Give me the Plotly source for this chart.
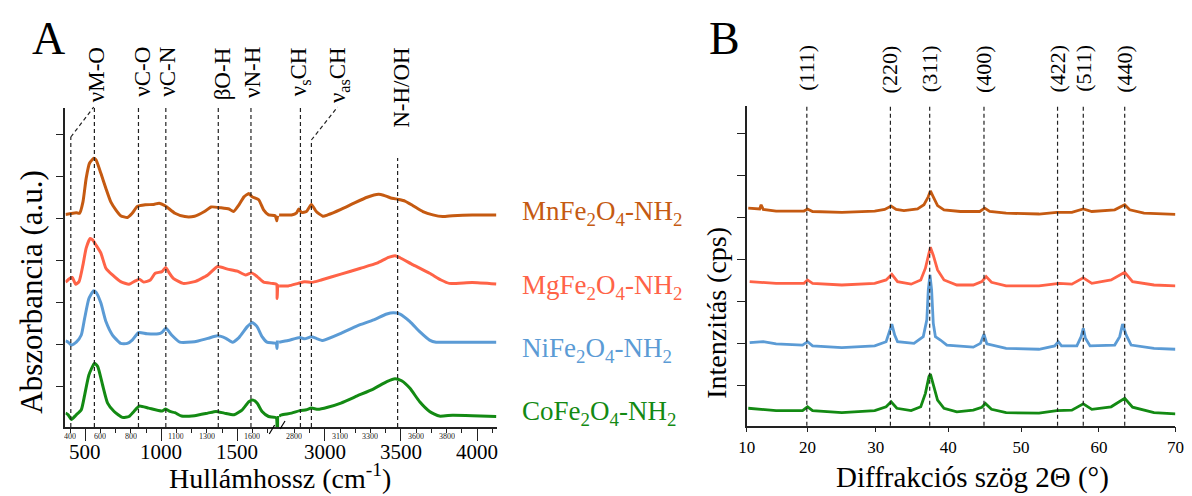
import plotly.graph_objects as go

W, H = 1192, 496
FONT = "Liberation Serif, DejaVu Serif, serif"

# ---------------- IR spectra (panel A) ----------------
samples = ["MnFe<sub>2</sub>O<sub>4</sub>-NH<sub>2</sub>",
           "MgFe<sub>2</sub>O<sub>4</sub>-NH<sub>2</sub>",
           "NiFe<sub>2</sub>O<sub>4</sub>-NH<sub>2</sub>",
           "CoFe<sub>2</sub>O<sub>4</sub>-NH<sub>2</sub>"]
colors = ["#C55A11", "#FF6347", "#5B9BD5", "#138A13"]

ir_mn_wn = [370, 441, 463, 485, 506, 528, 556, 571, 603, 636, 668, 701, 733, 777, 809, 842, 895, 950, 986,
            1025, 1090, 1155, 1219, 1284, 1328, 1393, 1446, 1475, 1511, 1544, 1576, 1598, 1641, 1673, 1706,
            1749, 1760, 1765,
            2700, 2782, 2815, 2829, 2847, 2879, 2912, 2944, 2987, 3019, 3106, 3192, 3278, 3353, 3385, 3429,
            3482, 3526, 3579, 3644, 3709, 3774, 3839, 3968, 4125]
ir_mn = [5.10, 5.14, 5.13, 5.40, 5.96, 6.32, 6.44, 6.40, 6.08, 5.72, 5.40, 5.21, 5.07, 5.03, 5.13, 5.29, 5.33,
         5.34, 5.37, 5.31, 5.13, 5.05, 5.06, 5.17, 5.28, 5.26, 5.23, 5.17, 5.33, 5.52, 5.60, 5.52, 5.45, 5.21,
         5.09, 5.07, 4.95, 5.07,
         5.09, 5.09, 5.14, 5.23, 5.15, 5.17, 5.34, 5.17, 5.06, 5.09, 5.22, 5.37, 5.51, 5.58, 5.56, 5.50,
         5.46, 5.42, 5.31, 5.17, 5.09, 5.05, 5.07, 5.09, 5.09]

ir_mg_wn = [370, 399, 415, 437, 459, 485, 506, 532, 550, 571, 603, 636, 679, 733, 788, 830, 856, 885, 928,
            960, 1004, 1029, 1047, 1079, 1144, 1219, 1306, 1371, 1436, 1501, 1555, 1594, 1631, 1673, 1728,
            1758, 1762, 1766,
            2700, 2760, 2825, 2868, 2912, 2976, 3106, 3235, 3342, 3418, 3462, 3494, 3580, 3688, 3763, 3817,
            3968, 4125]
ir_mg = [3.49, 3.58, 3.60, 3.44, 3.50, 3.90, 4.30, 4.53, 4.49, 4.37, 4.18, 3.82, 3.66, 3.50, 3.44, 3.52, 3.56,
         3.49, 3.54, 3.70, 3.74, 3.84, 3.74, 3.58, 3.46, 3.50, 3.66, 3.86, 3.80, 3.75, 3.66, 3.71, 3.62, 3.49,
         3.46, 3.44, 3.10, 3.44,
         3.40, 3.40, 3.46, 3.50, 3.48, 3.54, 3.68, 3.82, 3.94, 4.08, 4.12, 4.07, 3.90, 3.70, 3.54, 3.46,
         3.48, 3.445]

ir_ni_wn = [370, 388, 409, 441, 474, 496, 524, 554, 571, 603, 636, 679, 733, 777, 809, 852, 906, 982, 1003,
            1031, 1068, 1122, 1219, 1306, 1371, 1425, 1468, 1511, 1566, 1598, 1630, 1663, 1695, 1756, 1761,
            1764,
            2700, 2760, 2836, 2868, 2912, 2944, 2987, 3106, 3213, 3321, 3407, 3450, 3494, 3559, 3623, 3688,
            3731, 3882, 4125]
ir_ni = [2.09, 2.06, 1.99, 2.06, 2.23, 2.63, 3.10, 3.28, 3.25, 2.99, 2.55, 2.23, 2.03, 2.03, 2.11, 2.29, 2.26,
         2.26, 2.29, 2.39, 2.23, 2.06, 2.07, 2.15, 2.21, 2.15, 2.06, 2.17, 2.43, 2.53, 2.43, 2.19, 2.06, 2.03,
         1.91, 2.10,
         2.06, 2.10, 2.17, 2.14, 2.19, 2.15, 2.10, 2.27, 2.45, 2.59, 2.73, 2.76, 2.73, 2.55, 2.31, 2.11,
         2.06, 2.06, 2.06]

ir_co_wn = [370, 388, 409, 441, 474, 496, 524, 561, 582, 614, 647, 690, 744, 788, 820, 856, 917, 1004, 1029,
            1057, 1090, 1133, 1219, 1306, 1360, 1414, 1479, 1533, 1576, 1605, 1630, 1663, 1706, 1756, 1762,
            1768, 1770,
            2700, 2717, 2782, 2836, 2879, 2912, 2955, 3019, 3106, 3213, 3321, 3407, 3461, 3504, 3559, 3623,
            3688, 3752, 3839, 3968, 4125]
ir_co = [0.37, 0.33, 0.22, 0.33, 0.45, 0.80, 1.28, 1.56, 1.48, 1.04, 0.61, 0.41, 0.27, 0.29, 0.41, 0.54, 0.49,
         0.42, 0.47, 0.41, 0.38, 0.30, 0.31, 0.37, 0.41, 0.37, 0.33, 0.45, 0.64, 0.68, 0.61, 0.41, 0.29, 0.26,
         -0.40, -0.40, 0.30,
         0.30, 0.33, 0.37, 0.43, 0.45, 0.49, 0.46, 0.51, 0.61, 0.78, 0.95, 1.12, 1.19, 1.14, 0.96, 0.64,
         0.41, 0.30, 0.32, 0.31, 0.29]

ir_wn_list = [ir_mn_wn, ir_mg_wn, ir_ni_wn, ir_co_wn]
ir_y_list = [ir_mn, ir_mg, ir_ni, ir_co]

ir_band_wn = [405, 560, 850, 1030, 1375, 1590, 2840, 2912, 3478]
ir_band_labels = ["νM-O", "νC-O", "νC-N", "βO-H", "νN-H", "ν<sub>s</sub>CH", "ν<sub>as</sub>CH", "N-H/OH"]
ir_label_wn = [575, 878, 1042, 1405, 1600, 2842, 3094, 3502]

ir_minor_left = [400, 600, 700, 800, 900, 1100, 1200, 1300, 1400, 1600, 1700]
ir_minor_right = [2800, 2900, 3100, 3200, 3300, 3400, 3600, 3700, 3800, 3900, 4100]
ir_small_labels = [400, 600, 800, 1100, 1300, 1600, 2800, 3100, 3300, 3600, 3800]
ir_big_left = [500, 1000, 1500]
ir_big_right = [3000, 3500, 4000]

# ---------------- XRD patterns (panel B) ----------------
xrd_mn_t = [10.2, 11.8, 12.0, 12.3, 14.1, 16.4, 18.0, 18.5, 19.2, 23.3, 27.9, 29.3, 30.2, 30.9, 32.0, 33.9,
            34.8, 35.4, 35.7, 36.1, 36.7, 37.6, 39.9, 42.6, 43.3, 44.0, 46.3, 50.9, 53.4, 55.5, 57.1, 58.3,
            61.5, 62.9, 63.6, 65.6, 70.0]
xrd_mn = [5.22, 5.20, 5.30, 5.19, 5.15, 5.14, 5.15, 5.20, 5.14, 5.12, 5.15, 5.19, 5.27, 5.19, 5.16, 5.20,
          5.30, 5.49, 5.63, 5.49, 5.28, 5.18, 5.14, 5.14, 5.22, 5.14, 5.10, 5.08, 5.12, 5.12, 5.20, 5.14,
          5.18, 5.30, 5.18, 5.10, 5.07]

xrd_mg_t = [10.4, 14.1, 18.0, 18.5, 19.2, 23.3, 27.9, 29.5, 30.3, 31.1, 33.0, 34.35, 35.0, 35.4, 35.7, 36.1,
            36.7, 37.6, 39.4, 41.7, 42.9, 43.5, 44.25, 46.3, 50.9, 53.7, 55.5, 57.1, 58.3, 61.0, 62.9, 64.0,
            67.0, 70.0]
xrd_mg = [3.47, 3.43, 3.43, 3.51, 3.43, 3.39, 3.43, 3.51, 3.645, 3.47, 3.41, 3.51, 3.79, 4.10, 4.29, 4.10,
          3.75, 3.51, 3.39, 3.39, 3.47, 3.59, 3.455, 3.37, 3.37, 3.43, 3.41, 3.56, 3.43, 3.51, 3.69, 3.47,
          3.39, 3.37]

xrd_ni_t = [10.4, 12.3, 14.1, 17.8, 18.5, 19.2, 23.3, 27.9, 29.5, 30.0, 30.3, 30.7, 31.1, 33.4, 34.7, 35.2,
            35.4, 35.64, 35.87, 36.1, 36.4, 37.1, 38.0, 41.7, 42.7, 43.2, 43.6, 46.3, 50.9, 53.1, 53.6, 54.05,
            56.2, 56.8, 57.1, 57.4, 58.05, 61.5, 62.2, 62.6, 63.1, 63.8, 67.0, 70.0]
xrd_ni = [2.02, 2.04, 1.99, 1.96, 2.04, 1.94, 1.90, 1.94, 2.04, 2.32, 2.46, 2.20, 2.04, 2.00, 2.16, 2.56,
          3.27, 3.63, 3.27, 2.48, 2.16, 2.08, 1.96, 1.91, 2.00, 2.22, 1.99, 1.88, 1.86, 1.94, 2.04, 1.94,
          1.94, 2.16, 2.36, 2.12, 1.94, 1.96, 2.16, 2.46, 2.20, 1.96, 1.88, 1.86]

xrd_co_t = [10.2, 14.1, 17.8, 18.5, 19.2, 23.3, 27.9, 29.5, 30.2, 31.0, 33.0, 34.35, 35.0, 35.5, 35.7, 36.1,
            36.7, 37.6, 39.4, 41.7, 42.9, 43.4, 44.25, 46.3, 50.9, 53.4, 55.5, 57.1, 58.3, 61.0, 62.9, 64.0,
            67.0, 70.0]
xrd_co = [0.455, 0.40, 0.40, 0.49, 0.40, 0.35, 0.40, 0.49, 0.61, 0.455, 0.40, 0.49, 0.81, 1.21, 1.27, 1.01,
          0.65, 0.455, 0.37, 0.41, 0.48, 0.57, 0.43, 0.35, 0.34, 0.40, 0.41, 0.56, 0.43, 0.49, 0.69, 0.48,
          0.35, 0.32]

xrd_t_list = [xrd_mn_t, xrd_mg_t, xrd_ni_t, xrd_co_t]
xrd_y_list = [xrd_mn, xrd_mg, xrd_ni, xrd_co]

hkl_theta = [18.4, 30.1, 35.6, 43.2, 53.5, 57.1, 62.9]
hkl_labels = ["(111)", "(220)", "(311)", "(400)", "(422)", "(511)", "(440)"]
xrd_tickvals = [10, 18.49, 28.05, 38.18, 48.39, 59.29, 70]
xrd_ticktext = ["10", "20", "30", "40", "50", "60", "70"]

label_y_px = [213, 287, 350, 413]


def px(x):
    return x / W


def py(y):
    return 1 - y / H


fig = go.Figure()

BREAK_LO, BREAK_HI = 1775, 2700
for wn, yy, c in zip(ir_wn_list, ir_y_list, colors):
    lx = [a for a in wn if a <= BREAK_LO]
    ly = [b for a, b in zip(wn, yy) if a <= BREAK_LO]
    rx = [a for a in wn if a >= BREAK_HI]
    ry = [b for a, b in zip(wn, yy) if a >= BREAK_HI]
    fig.add_trace(go.Scatter(x=lx, y=ly, mode="lines", line=dict(color=c, width=3, shape="spline", smoothing=0.5),
                             xaxis="x", yaxis="y", showlegend=False, hoverinfo="skip"))
    fig.add_trace(go.Scatter(x=rx, y=ry, mode="lines", line=dict(color=c, width=3, shape="spline", smoothing=0.5),
                             xaxis="x3", yaxis="y", showlegend=False, hoverinfo="skip"))

for t, yy, c in zip(xrd_t_list, xrd_y_list, colors):
    fig.add_trace(go.Scatter(x=t, y=yy, mode="lines", line=dict(color=c, width=2.8),
                             xaxis="x2", yaxis="y2", showlegend=False, hoverinfo="skip"))

shapes = []
dash = dict(color="#222", width=1.2, dash="4px,3px")
ir_top_px = [137, 105, 105, 105, 106, 106, 106, 140, 158]
for wn, top in zip(ir_band_wn, ir_top_px):
    ref = "x" if wn <= BREAK_LO else "x3"
    shapes.append(dict(type="line", xref=ref, yref="paper", x0=wn, x1=wn, y0=py(427), y1=py(top), line=dash))
shapes.append(dict(type="line", xref="x", yref="paper", x0=ir_band_wn[0], x1=ir_band_wn[1] - 4,
                   y0=py(137), y1=py(107), line=dash))
shapes.append(dict(type="line", xref="x3", yref="paper", x0=ir_band_wn[7], x1=ir_label_wn[6] - 10,
                   y0=py(140), y1=py(107), line=dash))
for t in hkl_theta:
    shapes.append(dict(type="line", xref="x2", yref="paper", x0=t, x1=t, y0=py(425.7), y1=py(106), line=dash))
blk = dict(color="#000", width=1.2)
shapes.append(dict(type="line", xref="paper", yref="paper", x0=px(264), x1=px(269.5), y0=py(434), y1=py(425), line=blk))
shapes.append(dict(type="line", xref="paper", yref="paper", x0=px(275), x1=px(280), y0=py(429), y1=py(421), line=blk))

ann = []
for lab, wn in zip(ir_band_labels, ir_label_wn):
    ref = "x" if wn <= BREAK_LO else "x3"
    ann.append(dict(text=lab, x=wn, xref=ref, y=py(45), yref="paper", textangle=-90, showarrow=False,
                    xanchor="center", yanchor="top", font=dict(family=FONT, size=23, color="#000")))
for lab, t in zip(hkl_labels, hkl_theta):
    ann.append(dict(text=lab, x=t, xref="x2", y=py(43), yref="paper", textangle=-90, showarrow=False,
                    xanchor="center", yanchor="top", font=dict(family=FONT, size=22, color="#000")))
for s, c, yp in zip(samples, colors, label_y_px):
    ann.append(dict(text=s, x=px(518), xref="paper", y=py(yp), yref="paper", showarrow=False,
                    xanchor="left", yanchor="middle", font=dict(family=FONT, size=27, color=c)))
for v in ir_small_labels:
    ann.append(dict(text=str(v), x=v, xref="x" if v <= BREAK_LO else "x3", y=py(436.5), yref="paper",
                    showarrow=False, xanchor="center", yanchor="middle", height=7, borderpad=0,
                    font=dict(family=FONT, size=8, color="#222")))
for v in ir_big_left + ir_big_right:
    ann.append(dict(text=str(v), x=v, xref="x" if v <= BREAK_LO else "x3", y=py(451.5), yref="paper",
                    showarrow=False, xanchor="center", yanchor="middle", height=19, borderpad=0,
                    font=dict(family=FONT, size=21, color="#000")))
ann += [
    dict(text="A", x=px(40), y=py(38), xref="paper", yref="paper", showarrow=False, xanchor="center",
         yanchor="middle", font=dict(family=FONT, size=46, color="#000")),
    dict(text="B", x=px(726), y=py(38), xref="paper", yref="paper", showarrow=False, xanchor="center",
         yanchor="middle", font=dict(family=FONT, size=46, color="#000")),
    dict(text="Abszorbancia (a.u.)", x=px(22), y=py(292), xref="paper", yref="paper", textangle=-90,
         showarrow=False, xanchor="center", yanchor="middle", font=dict(family=FONT, size=31, color="#000")),
    dict(text="Intenzitás (cps)", x=px(717), y=py(313), xref="paper", yref="paper", textangle=-90,
         showarrow=False, xanchor="center", yanchor="middle", font=dict(family=FONT, size=28, color="#000")),
    dict(text="Hullámhossz (cm<sup>-1</sup>)", x=px(275), y=py(496), xref="paper", yref="paper",
         showarrow=False, xanchor="center", yanchor="bottom", font=dict(family=FONT, size=28, color="#000")),
    dict(text="Diffrakciós szög 2Θ (°)", x=px(977), y=py(477), xref="paper", yref="paper",
         showarrow=False, xanchor="center", yanchor="middle", font=dict(family=FONT, size=29, color="#000")),
]

axline = dict(showline=True, linecolor="#222", linewidth=1.5, showgrid=False, zeroline=False, mirror=False)
ytick = dict(tickmode="array", tickvals=[1, 2, 3, 4, 5, 6, 7], showticklabels=False, ticks="outside",
             ticklen=8, tickwidth=1.3, tickcolor="#222")
bigx = dict(ticks="outside", ticklen=12, tickwidth=1.3, tickcolor="#222", showticklabels=False)

fig.update_layout(
    width=W, height=H, margin=dict(l=0, r=0, t=0, b=0),
    paper_bgcolor="white", plot_bgcolor="white",
    font=dict(family=FONT, color="#000"),
    xaxis=dict(domain=[px(57.3), px(274)], range=[370, BREAK_LO], anchor="y", tickmode="array",
               tickvals=ir_big_left,
               minor=dict(tickmode="array", tickvals=ir_minor_left, ticks="outside", ticklen=4,
                          tickwidth=1.2, tickcolor="#222"), **bigx, **axline),
    xaxis3=dict(domain=[px(274), px(495)], range=[BREAK_HI, 4130], anchor="y", tickmode="array",
                tickvals=ir_big_right,
                minor=dict(tickmode="array", tickvals=ir_minor_right, ticks="outside", ticklen=4,
                           tickwidth=1.2, tickcolor="#222"), **bigx, **axline),
    yaxis=dict(domain=[py(427), py(108)], range=[0.04, 7.636], anchor="x", **ytick, **axline),
    xaxis2=dict(domain=[px(748.5), px(1183.3)], range=[10, 70], anchor="y2", tickmode="array",
                tickvals=xrd_tickvals, ticktext=xrd_ticktext, ticks="outside", ticklen=5, tickwidth=1.3,
                tickcolor="#222", tickfont=dict(family=FONT, size=17), **axline),
    yaxis2=dict(domain=[py(425.7), py(106)], range=[0.04, 7.652], anchor="x2", **ytick, **axline),
    shapes=shapes, annotations=ann,
)

fig.write_html("out.html")
